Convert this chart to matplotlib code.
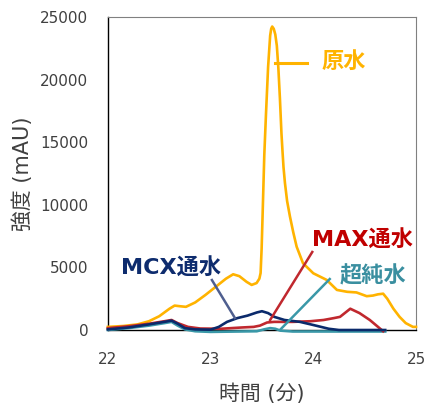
import matplotlib
matplotlib.use("Agg")
import matplotlib.pyplot as plt

plt.rcParams['font.family'] = ['DejaVu Sans', 'Noto Sans CJK JP']

# Chromatogram traces: time (min) and intensity (mAU)
t_raw = [22.00, 22.15, 22.29, 22.40, 22.50, 22.60, 22.65, 22.70, 22.76, 22.85,
         22.95, 23.05, 23.15, 23.22, 23.28, 23.35, 23.40, 23.448, 23.475, 23.487,
         23.497, 23.506, 23.523, 23.539, 23.56, 23.58, 23.59, 23.60, 23.615, 23.63,
         23.645, 23.66, 23.675, 23.69, 23.70, 23.71, 23.724, 23.745, 23.773, 23.805,
         23.838, 23.90, 24.00, 24.13, 24.23, 24.33, 24.42, 24.52, 24.58, 24.63,
         24.68, 24.72, 24.78, 24.84, 24.90, 24.97, 25.00]
v_raw = [250, 320, 450, 700, 1100, 1700, 1950, 1900, 1850, 2200,
         2800, 3450, 4100, 4450, 4300, 3850, 3600, 3750, 4100, 4550,
         6500, 9050, 13980, 17170, 21000, 23500, 24050, 24230, 24050, 23600,
         22700, 20900, 18500, 15700, 14300, 13000, 11740, 10300, 9050, 7800,
         6650, 5330, 4530, 4000, 3200, 3050, 3000, 2700, 2750, 2850,
         2900, 2500, 1700, 1050, 550, 250, 250]

t_mcx = [22.00, 22.20, 22.40, 22.55, 22.62, 22.68, 22.75, 22.85, 23.00, 23.08,
         23.16, 23.26, 23.36, 23.45, 23.50, 23.56, 23.62, 23.72, 23.87, 24.00,
         24.15, 24.25, 24.70]
v_mcx = [50, 200, 450, 650, 750, 500, 150, 50, 30, 250,
         650, 950, 1150, 1400, 1500, 1350, 1050, 800, 650, 400,
         100, 0, 0]

t_max = [22.00, 22.20, 22.40, 22.55, 22.62, 22.68, 22.78, 22.90, 23.10, 23.30,
         23.42, 23.48, 23.55, 23.62, 23.80, 23.97, 24.10, 24.20, 24.26, 24.36,
         24.45, 24.55, 24.63, 24.68]
v_max = [150, 300, 500, 700, 800, 550, 250, 120, 100, 200,
         250, 350, 600, 650, 650, 700, 800, 950, 1050, 1700,
         1350, 800, 250, -100]

t_pure = [22.00, 22.20, 22.40, 22.55, 22.62, 22.68, 22.75, 22.85, 23.00, 23.45,
          23.52, 23.58, 23.63, 23.68, 23.80, 24.70]
v_pure = [0, 150, 350, 550, 650, 350, 50, -100, -150, -100,
          50, 150, 100, -50, -120, -120]

labels = ['原水', 'MAX通水', '超純水', 'MCX通水']
colors = {'原水': '#FFB300', 'MAX通水': '#C0282E', '超純水': '#3A98A8', 'MCX通水': '#0B2A6B'}
text_colors = {'原水': '#FFB300', 'MAX通水': '#C00000', '超純水': '#3A8FA0', 'MCX通水': '#0E2C6E'}

x_ticks = [22, 23, 24, 25]
y_ticks = [0, 5000, 10000, 15000, 20000, 25000]

fig = plt.figure(figsize=(4.28, 4.12), dpi=100)
ax = fig.add_axes([0.252, 0.199, 0.720, 0.760])

lw = 1.9
ax.plot(t_raw, v_raw, color=colors['原水'], lw=lw, zorder=3, clip_on=False)
ax.plot(t_pure, v_pure, color=colors['超純水'], lw=lw, zorder=3, clip_on=False)
ax.plot(t_max, v_max, color=colors['MAX通水'], lw=lw, zorder=4, clip_on=False)
ax.plot(t_mcx, v_mcx, color=colors['MCX通水'], lw=lw, zorder=5, clip_on=False)

# leader lines and labels
ax.plot([23.63, 23.94], [21330, 21330], color=colors['原水'], lw=2.2, zorder=6)
ax.text(24.08, 21400, '原水', color=text_colors['原水'], fontsize=16,
        fontweight='bold', ha='left', va='center', zorder=7)

ax.plot([23.58, 23.99], [800, 6230], color=colors['MAX通水'], lw=1.8, zorder=6)
ax.text(24.48, 7190, 'MAX通水', color=text_colors['MAX通水'], fontsize=16,
        fontweight='bold', ha='center', va='center', zorder=7)

ax.plot([23.675, 24.16], [0, 4070], color=colors['超純水'], lw=1.8, zorder=6)
ax.text(24.58, 4310, '超純水', color=text_colors['超純水'], fontsize=16,
        fontweight='bold', ha='center', va='center', zorder=7)

ax.plot([23.013, 23.237], [3990, 960], color='#4F5F8F', lw=1.8, zorder=6)
ax.text(22.62, 4950, 'MCX通水', color=text_colors['MCX通水'], fontsize=16,
        fontweight='bold', ha='center', va='center', zorder=7)

ax.set_xlim(22, 25)
ax.set_ylim(0, 25000)
ax.set_xticks(x_ticks)
ax.set_yticks(y_ticks)
ax.tick_params(axis='both', length=0, labelsize=11, labelcolor='#404040')
ax.tick_params(axis='y', pad=14)
ax.tick_params(axis='x', pad=16)

for side in ['left', 'bottom']:
    ax.spines[side].set_color('#000000')
    ax.spines[side].set_linewidth(1.0)
for side in ['top', 'right']:
    ax.spines[side].set_color('#808080')
    ax.spines[side].set_linewidth(0.8)

ax.set_xlabel('時間 (分)', fontsize=15, color='#404040', labelpad=12)
ax.set_ylabel('強度 (mAU)', fontsize=15, color='#404040', labelpad=5)

fig.savefig('out.png', dpi=100)
